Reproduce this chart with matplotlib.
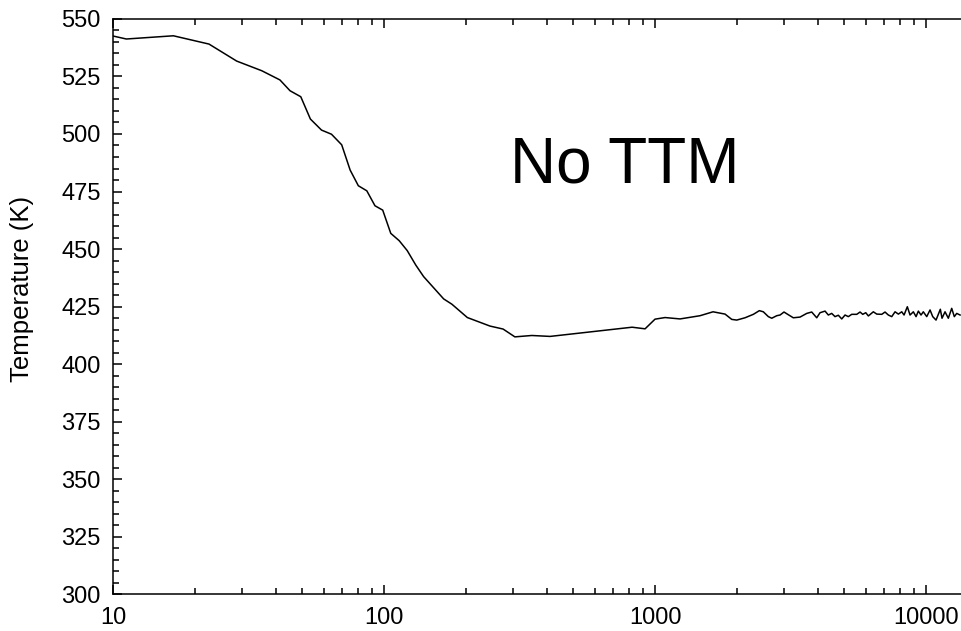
import matplotlib
matplotlib.use("Agg")
import matplotlib.pyplot as plt
from matplotlib.ticker import MultipleLocator, LogLocator, FixedLocator

plt.rcParams['font.family'] = ['Liberation Sans', 'DejaVu Sans']

# time (log axis) and temperature
time = [10, 11.2, 16.7, 22.6, 28.6, 35.4, 41.3, 45.0, 49.3, 53.5, 58.8, 64, 69.8,
        75.0, 80.4, 86.4, 92.6, 98.9, 105.9, 113.8, 121.8, 131, 140, 166,
        178, 203, 246, 275, 304, 351, 410, 823, 919, 1000, 1089, 1237, 1466,
        1637, 1813, 1919, 2002, 2148, 2306, 2427, 2510, 2619, 2696, 2813, 2893,
        2992, 3077, 3238, 3428, 3629, 3786, 3951, 4063, 4240, 4360, 4487, 4615,
        4747, 4886, 5025, 5168, 5319, 5551, 5709, 5841, 5993, 6127, 6391, 6579,
        6864, 7059, 7260, 7473, 7686, 7905, 8136, 8297, 8531, 8730, 8979, 9187,
        9369, 9583, 9772, 10060, 10347, 10586, 10887, 11293, 11455, 11752, 12086,
        12438, 12717, 12980, 13355]
temp = [542.6, 541.3, 542.7, 539.1, 531.7, 527.5, 523.5, 518.8, 516.2, 506.5, 501.7, 499.9, 495.3,
        484.3, 477.5, 475.3, 468.8, 466.9, 456.8, 453.6, 449.3, 443.0, 438.0, 428.3,
        426.0, 420.2, 416.5, 415.2, 411.8, 412.4, 412.0, 416.0, 415.3, 419.5, 420.2, 419.6, 421.0,
        422.7, 421.7, 419.4, 419.1, 420.1, 421.6, 423.2, 422.7, 420.6, 419.9, 421.0, 421.3,
        422.6, 421.7, 420.1, 420.4, 422.0, 422.6, 420.1, 422.3, 423.0, 421.3, 422.0, 420.6,
        421.2, 419.6, 421.3, 420.6, 421.6, 421.6, 422.6, 421.6, 422.3, 420.9, 422.7, 421.7,
        421.6, 422.6, 421.3, 420.6, 422.7, 421.7, 422.7, 421.3, 424.9, 421.3, 422.7, 420.6,
        423.0, 421.3, 422.7, 420.6, 423.5, 420.6, 419.1, 423.8, 419.9, 422.7, 419.9,
        424.2, 420.6, 422.0, 421.3]

yticks = [300, 325, 350, 375, 400, 425, 450, 475, 500, 525, 550]
xticks = [10, 100, 1000, 10000]

fig = plt.figure(figsize=(9.61, 6.31), dpi=100)
ax = fig.add_axes([0.1176, 0.0586, 0.8824, 0.9113])

ax.plot(time, temp, color='black', lw=1.1)

ax.set_xscale('log')
ax.set_xlim(10, 13460)
ax.set_ylim(300, 550)

ax.xaxis.set_major_locator(FixedLocator(xticks))
ax.set_xticklabels([str(t) for t in xticks])
ax.xaxis.set_minor_locator(LogLocator(base=10, subs=range(2, 10)))
ax.xaxis.set_minor_formatter(plt.NullFormatter())
ax.set_yticks(yticks)
ax.yaxis.set_minor_locator(MultipleLocator(5))

ax.tick_params(which='both', direction='in', top=True, right=False, width=1.1,
               labelsize=17, colors='black')
ax.tick_params(which='major', length=6.5)
ax.tick_params(which='minor', length=4)
ax.tick_params(axis='y', pad=9)
ax.tick_params(axis='x', pad=9)

ax.spines['right'].set_visible(False)
for s in ('left', 'top', 'bottom'):
    ax.spines[s].set_linewidth(1.1)

ax.set_ylabel('Temperature (K)', fontsize=18.5)
ax.yaxis.set_label_coords(-0.093, 0.53)

ax.text(0.468, 0.715, 'No TTM', transform=ax.transAxes, fontsize=46,
        ha='left', va='baseline')

fig.savefig('out.png', dpi=100)
